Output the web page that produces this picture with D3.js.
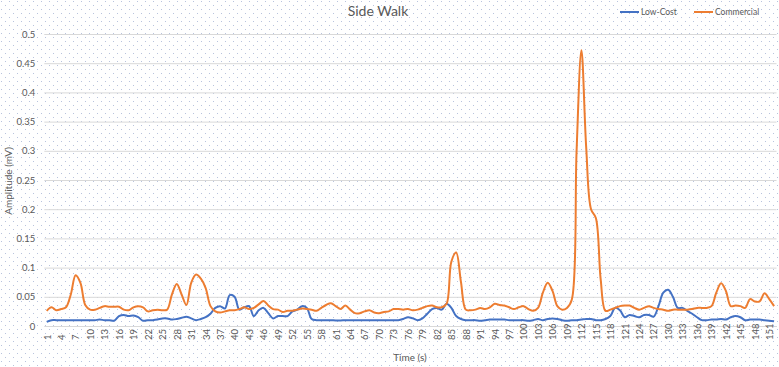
<!DOCTYPE html>
<html>
<head>
<meta charset="utf-8">
<script src="https://cdn.jsdelivr.net/npm/d3@7"></script>
<style>
  html, body { margin: 0; padding: 0; background: #fff; }
  svg { display: block; font-family: Lato, "Liberation Sans", sans-serif; }
</style>
</head>
<body>
<script>
// Chart values
const timeSeconds = d3.range(1, 153);
const lowCost = [
  0.007, 0.010, 0.010, 0.010, 0.010, 0.010, 0.010, 0.010, 0.010, 0.010,
  0.010, 0.011, 0.010, 0.010, 0.009, 0.017, 0.019, 0.017, 0.018, 0.015,
  0.009, 0.010, 0.010, 0.011, 0.013, 0.013, 0.011, 0.012, 0.014, 0.016,
  0.013, 0.010, 0.012, 0.015, 0.021, 0.031, 0.034, 0.030, 0.053, 0.050,
  0.028, 0.032, 0.034, 0.017, 0.027, 0.031, 0.022, 0.013, 0.017, 0.017,
  0.017, 0.025, 0.028, 0.034, 0.031, 0.012, 0.010, 0.010, 0.010, 0.010,
  0.0095, 0.0095, 0.010, 0.010, 0.010, 0.010, 0.010, 0.010, 0.010, 0.010,
  0.010, 0.010, 0.010, 0.010, 0.012, 0.015, 0.013, 0.010, 0.013, 0.021,
  0.029, 0.031, 0.028, 0.038, 0.031, 0.017, 0.012, 0.010, 0.010, 0.010,
  0.009, 0.010, 0.011, 0.011, 0.011, 0.011, 0.010, 0.010, 0.010, 0.010,
  0.009, 0.010, 0.012, 0.010, 0.012, 0.013, 0.012, 0.010, 0.009, 0.010,
  0.010, 0.011, 0.012, 0.012, 0.010, 0.010, 0.012, 0.017, 0.031, 0.027,
  0.015, 0.019, 0.017, 0.015, 0.019, 0.019, 0.016, 0.034, 0.057, 0.062,
  0.050, 0.031, 0.031, 0.026, 0.021, 0.015, 0.010, 0.010, 0.011, 0.011,
  0.012, 0.011, 0.015, 0.017, 0.015, 0.010, 0.011, 0.011, 0.011, 0.010,
  0.009, 0.008
];
const commercial = [
  0.026, 0.032, 0.027, 0.029, 0.032, 0.054, 0.087, 0.074, 0.036, 0.028,
  0.028, 0.031, 0.034, 0.033, 0.033, 0.033, 0.028, 0.027, 0.032, 0.034,
  0.032, 0.025, 0.027, 0.028, 0.027, 0.028, 0.054, 0.072, 0.054, 0.036,
  0.074, 0.088, 0.081, 0.065, 0.034, 0.025, 0.023, 0.025, 0.027, 0.027,
  0.029, 0.032, 0.029, 0.031, 0.037, 0.043, 0.035, 0.029, 0.028, 0.024,
  0.026, 0.026, 0.028, 0.030, 0.029, 0.028, 0.026, 0.031, 0.036, 0.039,
  0.034, 0.029, 0.035, 0.028, 0.022, 0.022, 0.025, 0.027, 0.023, 0.022,
  0.024, 0.025, 0.029, 0.029, 0.028, 0.029, 0.027, 0.028, 0.031, 0.034,
  0.035, 0.032, 0.032, 0.038, 0.110, 0.126, 0.075, 0.028, 0.027, 0.028,
  0.031, 0.029, 0.032, 0.038, 0.036, 0.035, 0.032, 0.029, 0.032, 0.034,
  0.029, 0.026, 0.031, 0.057, 0.074, 0.060, 0.034, 0.028, 0.031, 0.045,
  0.300, 0.472, 0.305, 0.200, 0.185, 0.080, 0.026, 0.028, 0.031, 0.034,
  0.035, 0.035, 0.031, 0.028, 0.031, 0.034, 0.031, 0.029, 0.028, 0.026,
  0.028, 0.028, 0.028, 0.028, 0.029, 0.031, 0.031, 0.031, 0.034, 0.057,
  0.073, 0.060, 0.034, 0.035, 0.034, 0.031, 0.046, 0.042, 0.042, 0.056,
  0.046, 0.034
];
const yTicks = [0, 0.05, 0.1, 0.15, 0.2, 0.25, 0.3, 0.35, 0.4, 0.45, 0.5];
const xTickLabels = timeSeconds.filter(t => (t - 1) % 3 === 0);

const series = [
  { name: 'Low-Cost', values: lowCost, color: '#4472C4' },
  { name: 'Commercial', values: commercial, color: '#ED7D31' }
];

const width = 779;
const height = 367;
const plot = { left: 44.3, right: 776.5, top: 34, bottom: 326 };
const textColor = '#595959';

const svg = d3.select('body')
  .append('svg')
  .attr('width', width)
  .attr('height', height);

// Dotted background
const pattern = svg.append('defs')
  .append('pattern')
  .attr('id', 'dots')
  .attr('width', 8)
  .attr('height', 8)
  .attr('patternUnits', 'userSpaceOnUse');
pattern.append('rect').attr('x', 1).attr('y', 1).attr('width', 1).attr('height', 1).attr('fill', '#b8c3dd');
pattern.append('rect').attr('x', 5).attr('y', 5).attr('width', 1).attr('height', 1).attr('fill', '#b8c3dd');

svg.append('rect')
  .attr('width', width)
  .attr('height', height)
  .attr('fill', 'url(#dots)');

// Scales
const x = d3.scalePoint()
  .domain(timeSeconds)
  .range([plot.left, plot.right])
  .padding(0.5);

const y = d3.scaleLinear()
  .domain([0, 0.5])
  .range([plot.bottom, plot.top]);

// Gridlines
svg.append('g')
  .attr('transform', `translate(${plot.left},0)`)
  .call(d3.axisLeft(y).tickValues(yTicks).tickSize(-(plot.right - plot.left)).tickFormat(''))
  .call(g => g.select('.domain').remove())
  .call(g => g.selectAll('line').attr('stroke', '#d9d9d9').attr('stroke-width', 1));

// Y axis labels
svg.append('g')
  .attr('transform', `translate(${plot.left},0)`)
  .call(d3.axisLeft(y).tickValues(yTicks).tickSize(0).tickPadding(9).tickFormat(d => d3.format('~g')(d)))
  .call(g => g.select('.domain').remove())
  .call(g => g.selectAll('text')
    .attr('fill', textColor)
    .style('font-size', '9.5px')
    .style('font-family', 'Lato, sans-serif'));

// X axis
svg.append('g')
  .attr('transform', `translate(0,${plot.bottom})`)
  .call(d3.axisBottom(x).tickValues(xTickLabels).tickSize(0))
  .call(g => g.select('.domain').attr('stroke', '#d9d9d9'))
  .call(g => g.selectAll('text')
    .attr('fill', textColor)
    .style('font-size', '9.5px')
    .style('font-family', 'Lato, sans-serif')
    .attr('text-anchor', 'start')
    .attr('dy', '0.35em')
    .attr('y', 0)
    .attr('transform', 'translate(0,14) rotate(-90)'));

// Lines
const line = d3.line()
  .x((d, i) => x(timeSeconds[i]))
  .y(d => y(d))
  .curve(d3.curveCatmullRom.alpha(0.5));

svg.append('g')
  .selectAll('path')
  .data(series)
  .join('path')
  .attr('d', d => line(d.values))
  .attr('fill', 'none')
  .attr('stroke', d => d.color)
  .attr('stroke-width', 2)
  .attr('stroke-linejoin', 'round');

// Title
svg.append('text')
  .attr('x', 378)
  .attr('y', 16)
  .attr('text-anchor', 'middle')
  .attr('fill', textColor)
  .style('font-size', '14px')
  .text('Side Walk');

// Axis titles
svg.append('text')
  .attr('x', 410)
  .attr('y', 361)
  .attr('text-anchor', 'middle')
  .attr('fill', textColor)
  .style('font-size', '10px')
  .text('Time (s)');

svg.append('text')
  .attr('transform', 'translate(12,181) rotate(-90)')
  .attr('text-anchor', 'middle')
  .attr('fill', textColor)
  .style('font-size', '10px')
  .text('Amplitude (mV)');

// Legend
const legendX = [620, 694];
const legend = svg.append('g')
  .selectAll('g')
  .data(series)
  .join('g')
  .attr('transform', (d, i) => `translate(${legendX[i]},12)`);

legend.append('line')
  .attr('x1', 0)
  .attr('x2', 19)
  .attr('stroke', d => d.color)
  .attr('stroke-width', 2);

legend.append('text')
  .attr('x', 21)
  .attr('dy', '0.35em')
  .attr('fill', textColor)
  .style('font-size', '8.5px')
  .text(d => d.name);
</script>
</body>
</html>
